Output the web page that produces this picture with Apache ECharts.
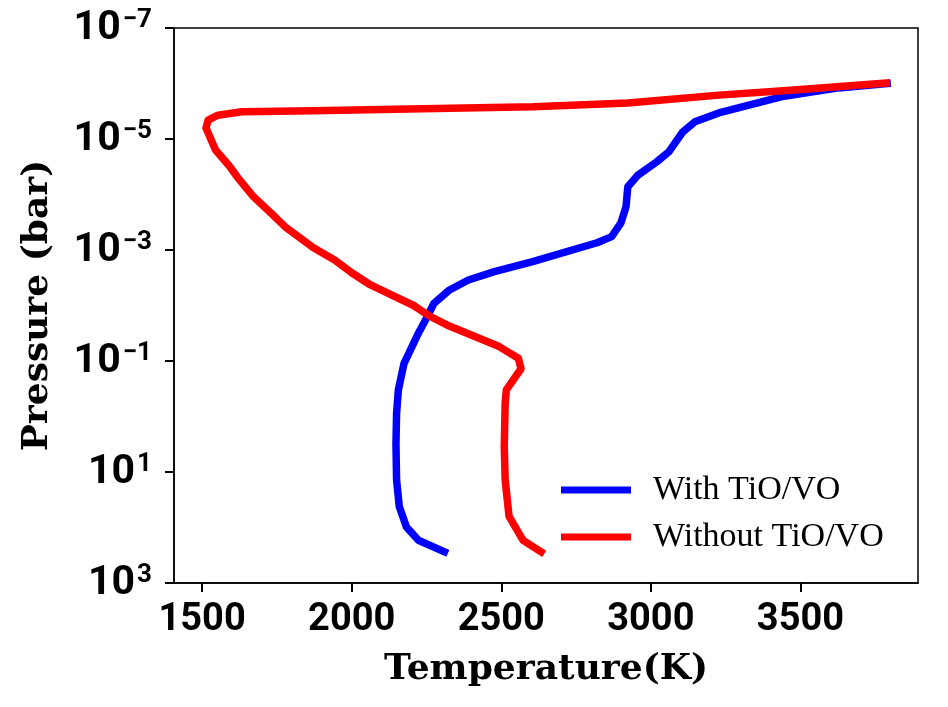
<!DOCTYPE html>
<html>
<head>
<meta charset="utf-8">
<title>Temperature-pressure profile</title>
<script src="https://cdn.jsdelivr.net/npm/echarts@6/dist/echarts.min.js"></script>
<style>
  html, body { margin: 0; padding: 0; background: #fff; }
  #chart { width: 948px; height: 707px; }
</style>
</head>
<body>
<div id="chart"></div>
<script>
// ---- data ----
// with TiO/VO : temperature (K) and pressure (bar), top of atmosphere first
var tempWith = [3790, 3627, 3435, 3227, 3147, 3107, 3060, 3020, 2957, 2923, 2917, 2900, 2869, 2820,
                2605, 2477, 2390, 2327, 2275, 2253, 2223, 2175, 2156, 2150, 2148, 2150, 2159, 2183, 2223, 2310];
var presWith = [1.0e-6, 1.2e-6, 1.74e-6, 3.39e-6, 4.9e-6, 7.41e-6, 1.7e-5, 2.57e-5, 4.47e-5, 7.24e-5,
                1.66e-4, 3.24e-4, 5.75e-4, 7.41e-4, 1.62e-3, 2.45e-3, 3.47e-3, 5.25e-3, 9.12e-3, 1.58e-2,
                3.16e-2, 0.11, 0.331, 0.871, 3.16, 13.8, 41.7, 97.7, 170, 275];
// without TiO/VO
var tempWithout = [3787, 3467, 3227, 2923, 2607, 2190, 1872, 1633, 1553, 1520, 1513, 1545, 1593, 1617,
                   1672, 1737, 1777, 1872, 1943, 2000, 2063, 2207, 2263, 2318, 2493, 2557, 2566, 2517,
                   2513, 2510, 2513, 2526, 2573, 2633];
var presWithout = [9.8e-7, 1.32e-6, 1.62e-6, 2.24e-6, 2.63e-6, 2.88e-6, 3.09e-6, 3.24e-6, 3.72e-6, 4.57e-6,
                   6.31e-6, 1.58e-5, 3.16e-5, 4.79e-5, 1.1e-4, 2.34e-4, 3.8e-4, 9.1e-4, 1.51e-3, 2.57e-3,
                   4.27e-3, 1.0e-2, 1.58e-2, 2.24e-2, 5.5e-2, 8.9e-2, 0.138, 0.331, 0.575, 3.47,
                   13.8, 63.1, 170, 275];

var seriesNames = ['With TiO/VO', 'Without TiO/VO'];
var xTicks = [1500, 2000, 2500, 3000, 3500];
var yTicks = [1e-7, 1e-5, 1e-3, 1e-1, 1e1, 1e3];

function pairs(xs, ys) {
    var out = [];
    for (var i = 0; i < xs.length; i++) out.push([xs[i], ys[i]]);
    return out;
}

// 10^n label with a raised exponent
function powerLabel(v) {
    var e = Math.round(Math.log10(v));
    var s = e < 0 ? '\u2212' + (-e) : '' + e;
    return '{b|10}{s|' + s + '}';
}

var chart = echarts.init(document.getElementById('chart'));
var option = {
    animation: false,
    backgroundColor: '#fff',
    grid: {
        left: 174, right: 30, top: 28, bottom: 124,
        show: true,
        borderColor: '#000',
        borderWidth: 1.5
    },
    legend: {
        data: seriesNames,
        orient: 'vertical',
        left: 561,
        top: 472,
        padding: 0,
        itemGap: 11,
        itemWidth: 70,
        itemHeight: 7,
        icon: 'rect',
        selectedMode: false,
        textStyle: {
            fontFamily: 'Liberation Serif',
            fontSize: 34,
            lineHeight: 36,
            color: '#000',
            padding: [0, 0, 0, 17]
        }
    },
    xAxis: {
        type: 'value',
        min: 1406,
        max: 3893,
        name: 'Temperature(K)',
        nameLocation: 'middle',
        nameGap: 69,
        nameTextStyle: {
            fontFamily: 'DejaVu Serif',
            fontWeight: 'bold',
            fontSize: 36,
            color: '#000'
        },
        splitLine: { show: false },
        axisLine: { lineStyle: { color: '#000', width: 1.5 } },
        axisTick: {
            customValues: xTicks,
            length: 9,
            lineStyle: { color: '#000', width: 2 }
        },
        axisLabel: {
            customValues: xTicks,
            margin: 18,
            formatter: function (v) { return String(v); },
            fontFamily: 'Roboto',
            fontWeight: 'bold',
            fontSize: 38,
            color: '#000'
        }
    },
    yAxis: {
        type: 'log',
        logBase: 10,
        min: 1e-7,
        max: 1e3,
        inverse: true,
        name: 'Pressure (bar)',
        nameLocation: 'middle',
        nameGap: 118,
        nameTextStyle: {
            fontFamily: 'DejaVu Serif',
            fontWeight: 'bold',
            fontSize: 36,
            color: '#000'
        },
        splitLine: { show: false },
        minorTick: { show: false },
        axisLine: { lineStyle: { color: '#000', width: 1.5 } },
        axisTick: {
            customValues: yTicks,
            length: 9,
            lineStyle: { color: '#000', width: 2 }
        },
        axisLabel: {
            customValues: yTicks,
            margin: 22,
            formatter: powerLabel,
            rich: {
                b: {
                    fontFamily: 'Roboto', fontWeight: 'bold', fontSize: 41,
                    lineHeight: 42, color: '#000', verticalAlign: 'bottom'
                },
                s: {
                    fontFamily: 'Roboto', fontWeight: 'bold', fontSize: 26,
                    lineHeight: 24, color: '#000', verticalAlign: 'top',
                    padding: [0, 0, 0, 2]
                }
            }
        }
    },
    series: [
        {
            name: seriesNames[0],
            type: 'line',
            data: pairs(tempWith, presWith),
            showSymbol: false,
            color: '#0000ff',
            lineStyle: { width: 7.5, color: '#0000ff', cap: 'square', join: 'round' }
        },
        {
            name: seriesNames[1],
            type: 'line',
            data: pairs(tempWithout, presWithout),
            showSymbol: false,
            color: '#ff0000',
            lineStyle: { width: 7.5, color: '#ff0000', cap: 'square', join: 'round' }
        }
    ]
};
chart.setOption(option);
</script>
</body>
</html>
